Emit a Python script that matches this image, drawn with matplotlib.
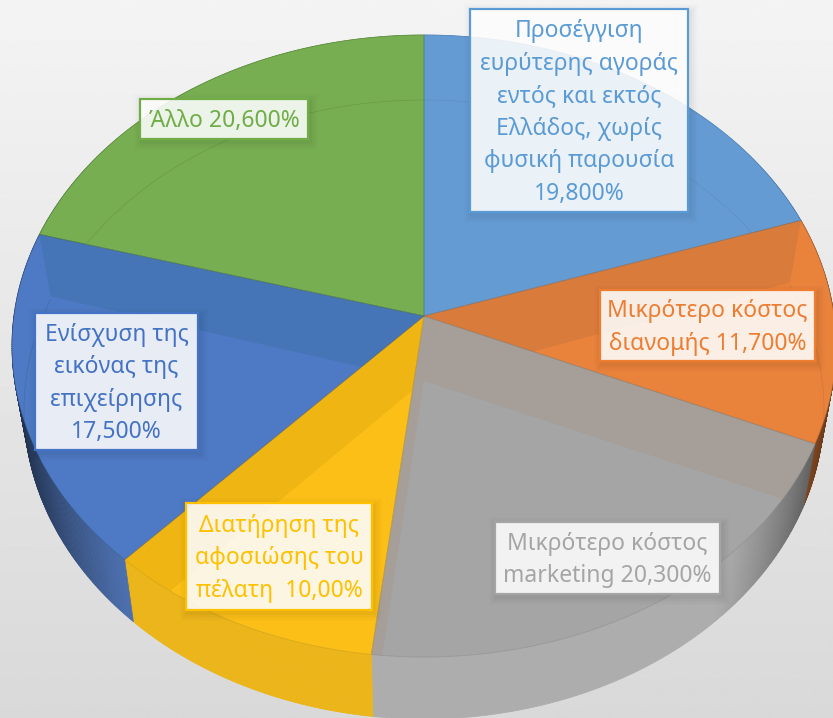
import numpy as np
import matplotlib
matplotlib.use("Agg")
import matplotlib.pyplot as plt
from matplotlib.patches import Polygon, Rectangle
from matplotlib.colors import to_rgb

plt.rcParams['font.family'] = ['Noto Sans', 'DejaVu Sans']

# --- data -----------------------------------------------------------------
categories = ["Προσέγγιση\nευρύτερης αγοράς\nεντός και εκτός\nΕλλάδος, χωρίς\nφυσική παρουσία\n19,800%",
              "Μικρότερο κόστος\nδιανομής 11,700%",
              "Μικρότερο κόστος\nmarketing 20,300%",
              "Διατήρηση της\nαφοσιώσης του\nπέλατη  10,00%",
              "Ενίσχυση της\nεικόνας της\nεπιχείρησης\n17,500%",
              "Άλλο 20,600%"]
values = [19.8, 11.7, 20.3, 10.0, 17.5, 20.6]

# --- styles ---------------------------------------------------------------
face_colors = ["#659BD3", "#E9823B", "#A5A5A5", "#FBBF17", "#4E79C4", "#78AE52"]
band_colors = ["#659BD3", "#D97B3B", "#A69F99", "#EFB513", "#4575B6", "#78AE52"]
wall_colors = ["#5B8CC0", "#DD7A35", "#ADADAD", "#ECB518", "#4C70B0", "#6A9A48"]
edge_colors = ["#4F7FB0", "#A8683A", "#8E8A85", "#C79A1E", "#34568F", "#55803A"]
text_colors = ["#5B9BD5", "#ED7D31", "#A5A5A5", "#FFC000", "#4472C4", "#70AD47"]
boxes = [(470, 9, 688, 212), (600, 290, 815, 361), (495, 522, 720, 594),
         (186, 503, 372, 610), (35, 313, 198, 450), (140, 99, 308, 139)]
FS = 16.5

W, H = 833, 718
CX, TOP_CY, TOP_RX, RY = 424, 346, 412, 311
SH_CY, SH_RX = 408, 400       # shifted (inner / bottom) ellipse
D = 0.0965                    # perspective offset of the pie centre


def project(frac):
    """Perspective map of a pie fraction (clockwise from top) to unit-disc coordinates."""
    t = 2 * np.pi * np.asarray(frac)
    x, y = np.sin(t), np.cos(t)
    den = 1 + y * D
    return x * np.sqrt(1 - D * D) / den, (y + D) / den


def rim(frac, rx, cy):
    x, y = project(frac)
    return np.column_stack([CX + rx * x, cy - RY * y])


fig = plt.figure(figsize=(W / 100, H / 100), dpi=100)
ax = fig.add_axes([0, 0, 1, 1])
ax.set_xlim(0, W)
ax.set_ylim(H, 0)
ax.axis("off")

# background
grad = np.linspace(0.955, 0.85, 256)[:, None]
ax.imshow(grad, extent=(0, W, H, 0), cmap="gray", vmin=0, vmax=1, aspect="auto", zorder=0)

total = sum(values)
cum = np.concatenate([[0], np.cumsum(values)]) / total
centre = np.array([CX, TOP_CY - RY * D])
apex = centre + np.array([0, 65])

# side walls, shaded strip by strip
for i in range(len(values)):
    fr = np.linspace(cum[i], cum[i + 1], 161)
    top, bot = rim(fr, TOP_RX, TOP_CY), rim(fr, SH_RX, SH_CY)
    base = np.array(to_rgb(wall_colors[i]))
    for j in range(len(fr) - 1):
        xn = abs(project((fr[j] + fr[j + 1]) / 2)[0])
        shade = 1 - 0.55 * np.clip((xn - 0.72) / 0.28, 0, 1) ** 1.2
        col = tuple(base * shade)
        ax.add_patch(Polygon(np.vstack([top[j:j + 2], bot[j:j + 2][::-1]]), closed=True,
                             fc=col, ec=col, lw=0.5, zorder=1))

# top faces with bevel bands
for i in range(len(values)):
    fr = np.linspace(cum[i], cum[i + 1], 120)
    arc = rim(fr, TOP_RX, TOP_CY)
    face = Polygon(np.vstack([centre, arc]), closed=True, fc=face_colors[i], ec="none", zorder=2)
    ax.add_patch(face)
    for f in (cum[i], cum[i + 1]):
        P = rim([f], TOP_RX, TOP_CY)[0]
        Q = rim([f], SH_RX, SH_CY)[0]
        q = Polygon([centre, P, Q, apex], closed=True, fc=band_colors[i], ec="none", zorder=3)
        ax.add_patch(q)
        q.set_clip_path(face)
    # faint inner rim line
    full = rim(np.linspace(cum[i], cum[i + 1], 120), SH_RX, SH_CY + 3)
    ln, = ax.plot(full[:, 0], full[:, 1], color=edge_colors[i], lw=0.5, alpha=0.4, zorder=4)
    ln.set_clip_path(face)
    # slice outline
    ax.plot(np.r_[centre[0], arc[:, 0], centre[0]], np.r_[centre[1], arc[:, 1], centre[1]],
            color=edge_colors[i], lw=0.6, alpha=0.55, zorder=5)

# label boxes
for cat, col, (x0, y0, x1, y1) in zip(categories, text_colors, boxes):
    for grow, a in ((8, 0.012), (6, 0.015), (4, 0.02), (2, 0.025)):
        ax.add_patch(Rectangle((x0 + 2 - grow, y0 + 3 - grow), x1 - x0 + 2 * grow, y1 - y0 + 2 * grow,
                               fc="black", alpha=a, ec="none", zorder=6))
    ax.add_patch(Rectangle((x0, y0), x1 - x0, y1 - y0, fc=(1, 1, 1, 0.88), ec=col, lw=1.6, zorder=7))
    ax.text((x0 + x1) / 2, (y0 + y1) / 2 + 2, cat, color=col, fontsize=FS, ha="center", va="center",
            linespacing=1.47, zorder=8)

fig.savefig("out.png", dpi=100)
